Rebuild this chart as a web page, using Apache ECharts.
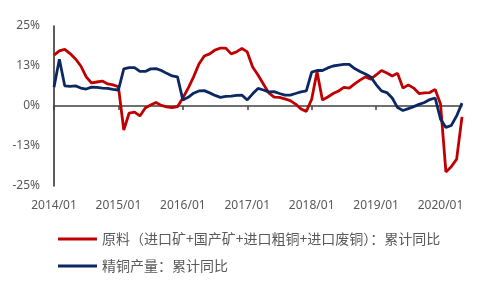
<!DOCTYPE html>
<html>
<head>
<meta charset="UTF-8">
<script src="https://cdn.jsdelivr.net/npm/echarts@6/dist/echarts.min.js"></script>
<style>
  html, body { margin: 0; padding: 0; background: #fff; }
  #chart { width: 492px; height: 294px; }
</style>
</head>
<body>
<div id="chart"></div>
<script>
// monthly categories 2014/01 .. 2020/05
const months = [];
for (let y = 2014; y <= 2020; y++) {
  for (let m = 1; m <= 12; m++) {
    if (y === 2020 && m > 5) break;
    months.push(y + '/' + (m < 10 ? '0' + m : m));
  }
}

// 原料（进口矿+国产矿+进口粗铜+进口废铜）：累计同比, %
const rawMaterial = [
  15.9, 17.2, 17.7, 16.4, 14.7, 12.5, 9.1, 7.2, 7.5, 7.8, 6.9, 6.6,
  6.0, -7.5, -2.2, -1.9, -3.1, -0.6, 0.3, 1.1, 0.2, -0.3, -0.5, -0.2,
  2.5, 5.6, 9.1, 13.1, 15.6, 16.3, 17.5, 18.1, 18.1, 16.3, 16.9, 18.0,
  16.9, 12.2, 9.7, 6.9, 4.1, 2.8, 2.7, 2.2, 1.7, 0.6, -0.9, -1.7,
  2.1, 10.7, 1.9, 2.8, 3.9, 4.7, 5.8, 5.6, 6.9, 8.1, 9.1, 8.4,
  9.7, 11.1, 10.3, 9.4, 10.2, 5.6, 6.6, 5.6, 3.9, 4.1, 4.2, 5.2,
  0.6, -20.6, -19.0, -16.6, -3.4
];

// 精铜产量：累计同比, %
const refinedCopper = [
  5.9, 14.6, 6.3, 6.1, 6.3, 5.6, 5.3, 5.9, 5.8, 5.6, 5.5, 5.2,
  5.0, 11.6, 12.0, 12.0, 10.8, 10.8, 11.6, 11.7, 11.1, 10.2, 9.4, 9.1,
  1.9, 2.7, 4.0, 4.7, 4.8, 4.1, 3.3, 2.7, 3.0, 3.1, 3.3, 3.4,
  1.9, 3.8, 5.5, 5.0, 4.4, 4.5, 3.9, 3.4, 3.4, 3.9, 4.4, 4.7,
  10.6, 11.1, 11.1, 11.9, 12.5, 12.8, 13.0, 13.0, 11.7, 10.8, 10.0, 9.1,
  6.7, 4.7, 4.2, 2.5, -0.5, -1.4, -0.8, -0.2, 0.5, 1.1, 2.0, 2.5,
  -4.1, -6.7, -6.1, -3.1, 0.9
];

const yTicks = [-25, -12.5, 0, 12.5, 25];

const chart = echarts.init(document.getElementById('chart'));
const yearStart = (i) => i % 12 === 0;

chart.setOption({
  animation: false,
  textStyle: { fontFamily: '"Noto Sans", "Noto Sans CJK SC", sans-serif' },
  grid: { left: 54, right: 30, top: 26, bottom: 108 },
  legend: {
    orient: 'vertical',
    left: 53,
    top: 227,
    itemWidth: 39,
    itemHeight: 3,
    itemGap: 13,
    icon: 'rect',
    textStyle: { color: '#595959', fontSize: 14, fontFamily: '"Noto Sans CJK SC", sans-serif' },
    data: ['原料（进口矿+国产矿+进口粗铜+进口废铜）：累计同比', '精铜产量：累计同比']
  },
  xAxis: [
    {
      type: 'category',
      data: months,
      boundaryGap: false,
      position: 'bottom',
      axisLine: { show: false, onZero: false },
      axisTick: { show: false },
      axisLabel: { interval: (i) => yearStart(i), color: '#595959', fontSize: 12, margin: 14 },
      splitLine: { show: false }
    },
    {
      type: 'category',
      data: months,
      boundaryGap: false,
      position: 'bottom',
      axisLine: { show: true, onZero: true, onZeroAxisIndex: 0, lineStyle: { color: '#404040', width: 1.5 } },
      axisTick: { show: true, interval: (i) => yearStart(i), length: 4, lineStyle: { color: '#404040', width: 1.5 } },
      axisLabel: { show: false },
      splitLine: { show: false }
    }
  ],
  yAxis: {
    type: 'value',
    min: yTicks[0],
    max: yTicks[yTicks.length - 1],
    interval: 12.5,
    axisLine: { show: true, lineStyle: { color: '#262626', width: 1.5 } },
    axisTick: { show: false },
    splitLine: { show: false },
    axisLabel: {
      color: '#595959',
      fontSize: 12,
      margin: 14,
      formatter: (v) => (v < 0 ? '-' : '') + Math.round(Math.abs(v)) + '%'
    }
  },
  series: [
    {
      name: '原料（进口矿+国产矿+进口粗铜+进口废铜）：累计同比',
      type: 'line',
      data: rawMaterial,
      showSymbol: false,
      symbol: 'none',
      lineStyle: { color: '#C00000', width: 2.8 },
      itemStyle: { color: '#C00000' }
    },
    {
      name: '精铜产量：累计同比',
      type: 'line',
      data: refinedCopper,
      showSymbol: false,
      symbol: 'none',
      lineStyle: { color: '#0C2862', width: 2.8 },
      itemStyle: { color: '#0C2862' }
    }
  ]
});
</script>
</body>
</html>
